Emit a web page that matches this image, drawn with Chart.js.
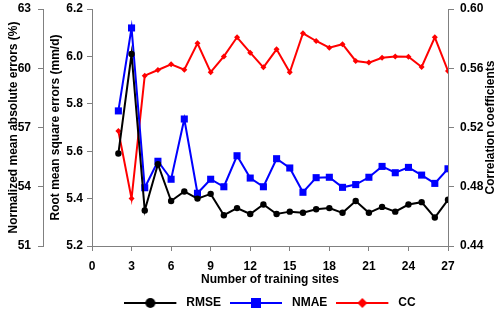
<!DOCTYPE html>
<html>
<head>
<meta charset="utf-8">
<script src="https://cdn.jsdelivr.net/npm/chart.js@4.4.0/dist/chart.umd.min.js"></script>
<style>
  html,body{margin:0;padding:0;background:#fff}
  #wrap{width:500px;height:310px}
</style>
</head>
<body>
<div id="wrap"><canvas id="chart" width="500" height="310"></canvas></div>
<script>
// valeurs
const sites = [2,3,4,5,6,7,8,9,10,11,12,13,14,15,16,17,18,19,20,21,22,23,24,25,26,27];
const rmse  = [5.59,6.01,5.35,5.545,5.39,5.43,5.40,5.42,5.33,5.36,5.335,5.375,5.335,5.345,5.34,5.355,5.36,5.34,5.39,5.34,5.365,5.345,5.375,5.385,5.32,5.395];
const nmae  = [57.84,62.04,53.95,55.29,54.38,57.43,53.67,54.38,54.0,55.57,54.44,54.0,55.42,54.95,53.72,54.46,54.48,53.97,54.11,54.48,55.03,54.71,54.98,54.59,54.17,54.91];
const cc    = [0.5176,0.472,0.555,0.5588,0.5627,0.559,0.5768,0.5573,0.568,0.5809,0.5705,0.5606,0.5728,0.5573,0.5836,0.5784,0.5739,0.5762,0.5649,0.5638,0.5671,0.568,0.5678,0.5609,0.5809,0.5582];

const xTicks = [0,3,6,9,12,15,18,21,24,27];

const FONT = "'Liberation Sans', Arial, sans-serif";
const AXIS = "#808080";

function pts(arr){ return sites.map((s,i)=>({ x:s, y:arr[i] })); }

// petite image ligne + marqueur pour la légende
function legendIcon(color, shape){
  const c = document.createElement("canvas");
  c.width = 56; c.height = 12;
  const g = c.getContext("2d");
  g.strokeStyle = color; g.lineWidth = 2;
  g.beginPath(); g.moveTo(0,6); g.lineTo(52,6); g.stroke();
  g.fillStyle = color;
  g.beginPath();
  if(shape==="circle"){ g.arc(26,6,5,0,Math.PI*2); }
  else if(shape==="square"){ g.rect(21,1,10,10); }
  else { g.moveTo(26,1); g.lineTo(31,6); g.lineTo(26,11); g.lineTo(21,6); g.closePath(); }
  g.fill();
  return c;
}
const icons = [legendIcon("#000","circle"), legendIcon("#0000ff","square"), legendIcon("#ff0000","diamond")];

// largeur fixe des axes verticaux, sans marge de débordement en haut
const fixW = w => (scale)=>{ scale.width = w; scale.paddingTop = 6; scale.paddingBottom = 0; };

// titre de l'axe droit, lu de bas en haut
const rightTitle = {
  id:"rightTitle",
  afterDraw(chart){
    const a = chart.chartArea, ctx = chart.ctx;
    ctx.save();
    ctx.translate(491, (a.top+a.bottom)/2);
    ctx.rotate(-Math.PI/2);
    ctx.font = "bold 12px " + FONT;
    ctx.fillStyle = "#000";
    ctx.textAlign = "center"; ctx.textBaseline = "middle";
    ctx.fillText("Correlation coefficients", 0, 0);
    ctx.restore();
  }
};

const legendHeight = {
  id:"legendHeight",
  afterInit(chart){
    const lg = chart.legend;
    const orig = lg.fit;
    lg.fit = function(){ orig.call(this); this.height = 22; };
  }
};

new Chart(document.getElementById("chart"), {
  type:"line",
  data:{
    datasets:[
      { label:"RMSE", data:pts(rmse), yAxisID:"yR", borderColor:"#000", backgroundColor:"#000",
        borderWidth:2, pointStyle:"circle", pointRadius:3.2, pointBorderWidth:0, tension:0 },
      { label:"NMAE", data:pts(nmae), yAxisID:"yN", borderColor:"#0000ff", backgroundColor:"#0000ff",
        borderWidth:2, pointStyle:"rect", pointRadius:5, pointBorderWidth:0, tension:0 },
      { label:"CC", data:pts(cc), yAxisID:"yC", borderColor:"#ff0000", backgroundColor:"#ff0000",
        borderWidth:2, pointStyle:"rectRot", pointRadius:3, pointBorderWidth:0, tension:0 }
    ]
  },
  options:{
    responsive:false,
    animation:false,
    layout:{ padding:{ top:9, bottom:0, left:0, right:0 } },
    plugins:{
      tooltip:{ enabled:false },
      legend:{
        position:"bottom",
        fullSize:false,
        labels:{
          usePointStyle:true, pointStyleWidth:56, boxHeight:12,
          padding:9, color:"#000",
          font:{ family:FONT, size:12, weight:"bold" },
          generateLabels(chart){
            const items = Chart.defaults.plugins.legend.labels.generateLabels(chart);
            items.forEach((it,i)=>{ it.pointStyle = icons[i]; });
            return items;
          }
        }
      }
    },
    scales:{
      x:{
        type:"linear", min:0, max:27,
        afterBuildTicks(s){ s.ticks = xTicks.map(v=>({ value:v })); },
        afterFit(s){ s.height = 42; },
        grid:{ drawOnChartArea:false, tickLength:5, color:AXIS },
        border:{ color:AXIS, width:1 },
        ticks:{ color:"#000", padding:8, maxRotation:0, font:{ family:FONT, size:12, weight:"bold" } },
        title:{ display:true, text:"Number of training sites", color:"#000", padding:{ top:1, bottom:1.5 },
                font:{ family:FONT, size:12, weight:"bold" } }
      },
      yR:{
        position:"left", weight:0, min:5.2, max:6.2,
        afterFit:fixW(49),
        grid:{ drawOnChartArea:false, tickLength:5, color:AXIS },
        border:{ color:AXIS, width:1 },
        ticks:{ stepSize:0.2, color:"#000", padding:4, callback:v=>v.toFixed(1),
                font:{ family:FONT, size:12, weight:"bold" } },
        title:{ display:true, text:"Root mean square errors (mm/d)", color:"#000", padding:{ top:5, bottom:0 },
                font:{ family:FONT, size:12, weight:"bold" } }
      },
      yN:{
        position:"left", weight:1, min:51, max:63,
        afterFit:fixW(43),
        grid:{ drawOnChartArea:false, tickLength:5, color:AXIS },
        border:{ color:AXIS, width:1 },
        ticks:{ stepSize:3, color:"#000", padding:7, font:{ family:FONT, size:12, weight:"bold" } },
        title:{ display:true, text:"Normalized mean absolute errors (%)", color:"#000", padding:{ top:6, bottom:0 },
                font:{ family:FONT, size:12, weight:"bold" } }
      },
      yC:{
        position:"right", min:0.44, max:0.60,
        afterFit:fixW(52),
        grid:{ drawOnChartArea:false, tickLength:6, color:AXIS },
        border:{ color:AXIS, width:1 },
        ticks:{ stepSize:0.04, color:"#000", padding:6, callback:v=>v.toFixed(2),
                font:{ family:FONT, size:12, weight:"bold" } }
      }
    }
  },
  plugins:[rightTitle, legendHeight]
});
</script>
</body>
</html>
